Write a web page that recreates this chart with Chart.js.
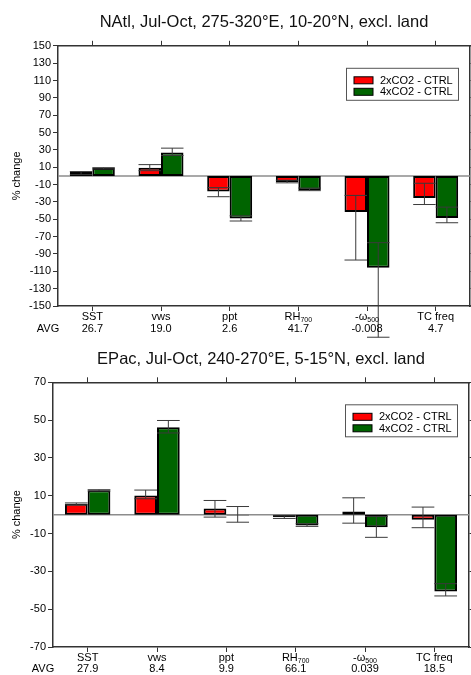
<!DOCTYPE html>
<html>
<head>
<meta charset="utf-8">
<script src="https://cdn.jsdelivr.net/npm/chart.js@4.4.1/dist/chart.umd.min.js"></script>
<style>
html,body{margin:0;padding:0;background:#fff;}
#wrap{position:relative;width:471px;height:675px;}
.box{position:absolute;left:0;width:471px;}
#boxTop{top:0;height:340px;}
#boxBottom{top:340px;height:335px;}
</style>
</head>
<body>
<div id="wrap">
  <div class="box" id="boxTop"><canvas id="chartTop"></canvas></div>
  <div class="box" id="boxBottom"><canvas id="chartBottom"></canvas></div>
</div>
<script>

/* ==========================================================
   DATA
========================================================== */

const categories = ["SST", "vws", "ppt", "RH", "-\u03c9", "TC freq"];
const subscripts = ["", "", "", "700", "500", ""];
const seriesNames = ["2xCO2 - CTRL", "4xCO2 - CTRL"];

// NAtl panel
const natlAvg = ["26.7", "19.0", "2.6", "41.7", "-0.008", "4.7"];
const natl2x = [4.4, 9.4, -18, -7, -41.5, -25.5];
const natl2xLow = [1.5, 6, -13.5, -5, -22.5, -8.5];
const natl2xHigh = [5, 13, -24, -8, -97, -33];
const natl4x = [9, 27, -49, -16.5, -106, -48.5];
const natl4xLow = [8, 23.5, -46, -14, -77, -36];
const natl4xHigh = [9.5, 32, -52, -17, -186, -54];
const natlTicks = [-150, -130, -110, -90, -70, -50, -30, -10, 10, 30, 50, 70, 90, 110, 130, 150];

// EPac panel
const epacAvg = ["27.9", "8.4", "9.9", "66.1", "0.039", "18.5"];
const epac2x = [5.8, 10.1, 3.3, -1.3, 1.7, -2.7];
const epac2xLow = [5.2, 8.4, -1.3, -0.6, -4.5, -6.9];
const epac2xHigh = [6.2, 13, 7.5, -2, 8.9, 4];
const epac4x = [12.9, 46.2, -0.5, -5.7, -6.6, -40.6];
const epac4xLow = [12.5, 43.2, -4, -4.8, -1, -36.5];
const epac4xHigh = [13.2, 49.8, 4.3, -6.2, -12, -43];
const epacTicks = [-70, -50, -30, -10, 10, 30, 50, 70];


/* ==========================================================
   GLOBAL SETTINGS
========================================================== */

const FONT = "'Liberation Sans', Arial, Helvetica, sans-serif";

Chart.defaults.font.family = FONT;
Chart.defaults.font.size = 11;
Chart.defaults.color = "#000";
Chart.defaults.animation = false;
Chart.defaults.responsive = true;
Chart.defaults.maintainAspectRatio = false;

const barColours = ["#ff0000", "#006400"];
const axisColour = "#333";


/* ==========================================================
   PLUGINS
========================================================== */

const zeroLinePlugin = {
    id: "zeroLine",
    beforeDatasetsDraw(chart) {
        const ctx = chart.ctx;
        const area = chart.chartArea;
        const y0 = chart.scales.y.getPixelForValue(0);
        ctx.save();
        ctx.strokeStyle = "#8c8c8c";
        ctx.lineWidth = 1.5;
        ctx.beginPath();
        ctx.moveTo(area.left, y0);
        ctx.lineTo(area.right, y0);
        ctx.stroke();
        ctx.restore();
    }
};

const errorBarPlugin = {
    id: "errorBars",
    afterDatasetsDraw(chart) {
        const ctx = chart.ctx;
        const y = chart.scales.y;
        ctx.save();
        ctx.strokeStyle = "#3a3a3a";
        ctx.lineWidth = 1;
        chart.data.datasets.forEach((ds, d) => {
            chart.getDatasetMeta(d).data.forEach((bar, i) => {
                const lo = y.getPixelForValue(ds.errLow[i]);
                const hi = y.getPixelForValue(ds.errHigh[i]);
                const half = bar.width / 2;
                ctx.beginPath();
                ctx.moveTo(bar.x, lo);
                ctx.lineTo(bar.x, hi);
                ctx.moveTo(bar.x - half, lo);
                ctx.lineTo(bar.x + half, lo);
                ctx.moveTo(bar.x - half, hi);
                ctx.lineTo(bar.x + half, hi);
                ctx.stroke();
            });
        });
        ctx.restore();
    }
};

const legendBoxPlugin = {
    id: "legendBox",
    afterDraw(chart) {
        const ctx = chart.ctx;
        const area = chart.chartArea;
        const w = 112, h = 32;
        const bx = area.right - 12 - w;
        const by = area.top + 22;
        ctx.save();
        ctx.fillStyle = "#fff";
        ctx.fillRect(bx, by, w, h);
        ctx.strokeStyle = "#555";
        ctx.lineWidth = 1;
        ctx.strokeRect(bx + 0.5, by + 0.5, w, h);
        ctx.font = "11px " + FONT;
        ctx.textBaseline = "middle";
        chart.data.datasets.forEach((ds, d) => {
            const cy = by + 12.5 + d * 11.5;
            ctx.fillStyle = ds.backgroundColor;
            ctx.fillRect(bx + 8, cy - 3.5, 19, 7);
            ctx.strokeStyle = "#000";
            ctx.strokeRect(bx + 8, cy - 3.5, 19, 7);
            ctx.fillStyle = "#000";
            ctx.fillText(ds.label, bx + 34, cy + 0.5);
        });
        ctx.restore();
    }
};

const categoryLabelPlugin = {
    id: "categoryLabels",
    afterDraw(chart, args, opts) {
        const ctx = chart.ctx;
        const area = chart.chartArea;
        const x = chart.scales.x;
        ctx.save();
        ctx.fillStyle = "#000";
        ctx.textBaseline = "middle";
        categories.forEach((name, i) => {
            const cx = x.getPixelForValue(i);
            ctx.font = "11px " + FONT;
            const w1 = ctx.measureText(name).width;
            ctx.font = "7px " + FONT;
            const w2 = subscripts[i] ? ctx.measureText(subscripts[i]).width : 0;
            const left = cx - (w1 + w2) / 2;
            ctx.textAlign = "left";
            ctx.font = "11px " + FONT;
            ctx.fillText(name, left, area.bottom + opts.nameGap);
            if (w2) {
                ctx.font = "7px " + FONT;
                ctx.fillText(subscripts[i], left + w1, area.bottom + opts.nameGap + 3);
            }
            ctx.font = "11px " + FONT;
            ctx.textAlign = "center";
            ctx.fillText(opts.avg[i], cx, area.bottom + opts.avgGap);
        });
        ctx.textAlign = "center";
        ctx.fillText("AVG", area.left - 10, area.bottom + opts.avgGap);
        ctx.restore();
    }
};


/* ==========================================================
   BUILD ONE PANEL
========================================================== */

function drawPanel(id, p) {

    const ctx = document.getElementById(id).getContext("2d");

    return new Chart(ctx, {
        type: "bar",
        data: {
            labels: categories,
            datasets: [
                {
                    label: seriesNames[0],
                    data: p.s1,
                    errLow: p.s1Low,
                    errHigh: p.s1High,
                    backgroundColor: barColours[0],
                    borderColor: "#000",
                    borderWidth: 2,
                    borderSkipped: false
                },
                {
                    label: seriesNames[1],
                    data: p.s2,
                    errLow: p.s2Low,
                    errHigh: p.s2High,
                    backgroundColor: barColours[1],
                    borderColor: "#000",
                    borderWidth: 2,
                    borderSkipped: false
                }
            ]
        },
        options: {
            categoryPercentage: 0.655,
            barPercentage: 1,
            layout: { padding: { left: 0, right: 0, top: 0, bottom: 0 } },
            scales: {
                x: {
                    position: "bottom",
                    offset: true,
                    grid: { offset: false, drawOnChartArea: false, tickLength: 5, color: axisColour },
                    border: { color: axisColour, width: 1.5 },
                    ticks: { display: false },
                    afterFit: s => { s.height = p.xHeight; }
                },
                x2: {
                    type: "category",
                    labels: categories,
                    position: "top",
                    offset: true,
                    grid: { offset: false, drawOnChartArea: false, tickLength: 5, color: axisColour },
                    border: { color: axisColour, width: 1.5 },
                    ticks: { display: false },
                    afterFit: s => { s.height = p.topHeight; }
                },
                y: {
                    min: p.min,
                    max: p.max,
                    afterBuildTicks: s => { s.ticks = p.ticks.map(v => ({ value: v })); },
                    grid: { drawOnChartArea: false, tickLength: 5, color: axisColour },
                    border: { color: axisColour, width: 1.5 },
                    ticks: { padding: 2, color: "#000", font: { size: 11 } },
                    title: {
                        display: true,
                        text: "% change",
                        font: { size: 11 },
                        padding: { top: 10, bottom: 0 }
                    },
                    afterFit: s => { s.width = p.yWidth; }
                },
                y2: {
                    position: "right",
                    min: p.min,
                    max: p.max,
                    afterBuildTicks: s => { s.ticks = p.ticks.map(v => ({ value: v })); },
                    grid: { drawOnChartArea: false, tickLength: 4, color: axisColour },
                    border: { color: axisColour, width: 1.5 },
                    ticks: { display: false },
                    afterFit: s => { s.width = p.rightWidth; }
                }
            },
            plugins: {
                legend: { display: false },
                tooltip: { enabled: false },
                title: {
                    display: true,
                    fullSize: false,
                    text: p.title,
                    color: "#111",
                    font: { size: 16.5, weight: "normal" },
                    padding: p.titlePad
                },
                categoryLabels: { avg: p.avg, nameGap: p.nameGap, avgGap: p.avgGap }
            }
        },
        plugins: [zeroLinePlugin, errorBarPlugin, legendBoxPlugin, categoryLabelPlugin]
    });
}


/* ==========================================================
   PANELS
========================================================== */

drawPanel("chartTop", {
    title: "NAtl, Jul-Oct, 275-320\u00b0E, 10-20\u00b0N, excl. land",
    titlePad: { top: 13, bottom: 9 },
    min: -150, max: 150, ticks: natlTicks,
    s1: natl2x, s1Low: natl2xLow, s1High: natl2xHigh,
    s2: natl4x, s2Low: natl4xLow, s2High: natl4xHigh,
    avg: natlAvg,
    yWidth: 58, xHeight: 34, topHeight: 4, rightWidth: 1,
    nameGap: 11, avgGap: 23
});

drawPanel("chartBottom", {
    title: "EPac, Jul-Oct, 240-270\u00b0E, 5-15\u00b0N, excl. land",
    titlePad: { top: 10, bottom: 8 },
    min: -70, max: 70, ticks: epacTicks,
    s1: epac2x, s1Low: epac2xLow, s1High: epac2xHigh,
    s2: epac4x, s2Low: epac4xLow, s2High: epac4xHigh,
    avg: epacAvg,
    yWidth: 53, xHeight: 28, topHeight: 4.5, rightWidth: 2,
    nameGap: 11, avgGap: 21.5
});

</script>
</body>
</html>
